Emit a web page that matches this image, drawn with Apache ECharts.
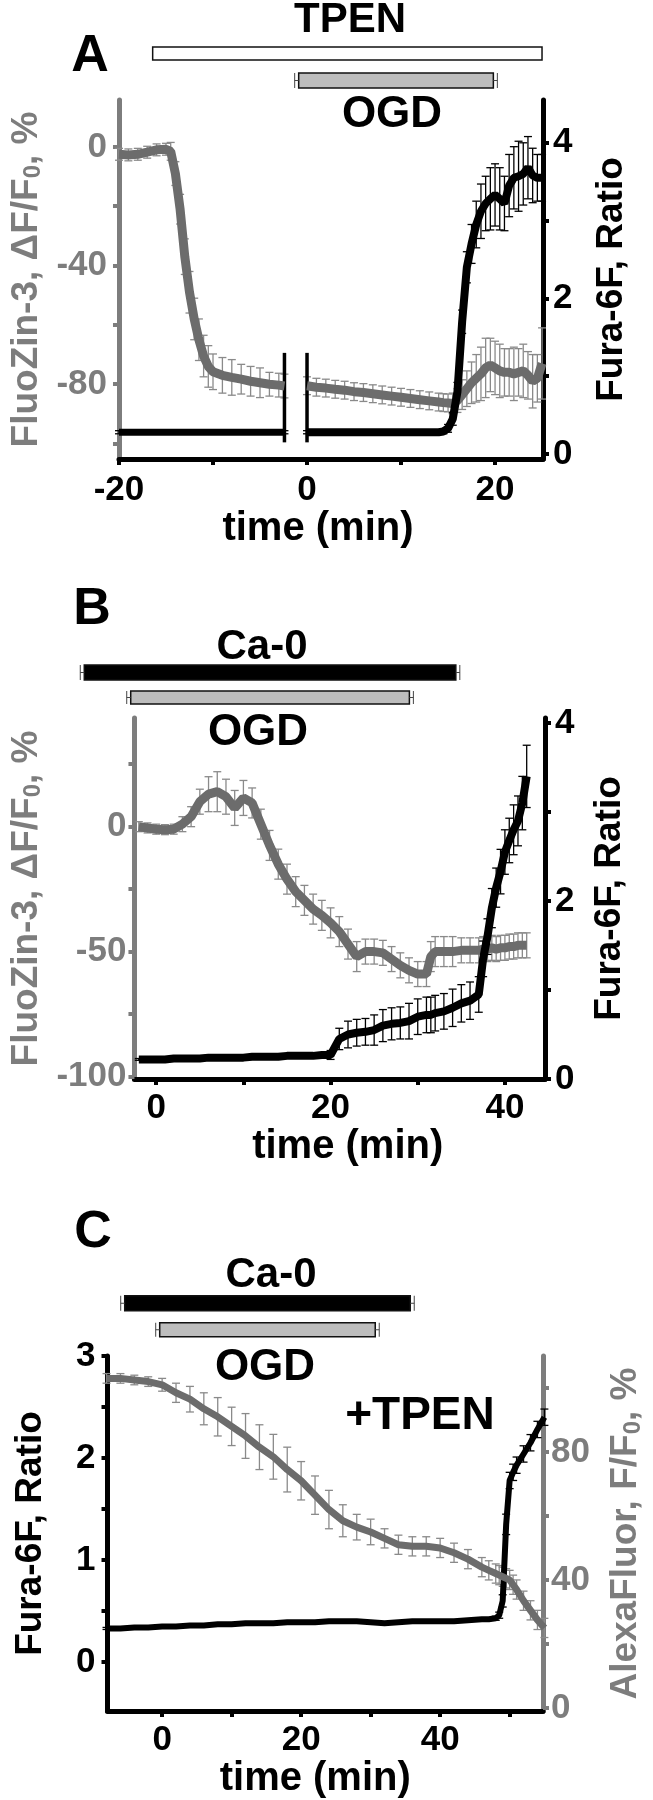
<!DOCTYPE html>
<html><head><meta charset="utf-8">
<script src="https://cdn.jsdelivr.net/npm/echarts/dist/echarts.min.js"></script>
<style>html,body{margin:0;padding:0;background:#fff}#c{width:653px;height:1800px}</style>
</head><body><div id="c"></div>
<script>
// ---------- Panel A ----------
const aTpen = [-15, 25];
const aOgd = [0, 20];
const aBreakTimes = [-2.4, 0];
const aBreakSpan = [0.15, 1.3];
const aTime1 = [-20,-19,-18,-17,-16,-15,-14.5,-14,-13.5,-13,-12.5,-12,-11.5,-11,-10.5,-10,-9,-8,-7,-6,-5,-4,-3,-2.4];
const aZn1 = [-2.5,-2.7,-2.5,-1.8,-1,-0.8,-1.5,-9,-21,-37,-49,-58,-65,-70.5,-74,-75.8,-77,-77.7,-78.3,-79,-79.5,-80,-80.3,-80.6];
const aZnErr1 = [2,2,2,2,2,2,3,4,5,6,7,7,7,7,7,6,6,6,5,5,5,4,4,4];
const aCa1 = [0.28,0.28,0.28,0.28,0.28,0.28,0.28,0.28,0.28,0.28,0.28,0.28,0.28,0.28,0.28,0.28,0.28,0.28,0.28,0.28,0.28,0.28,0.28,0.28];
const aCaErr1 = [0.02,0.02,0.02,0.02,0.02,0.02,0.02,0.02,0.02,0.02,0.02,0.02,0.02,0.02,0.02,0.02,0.02,0.02,0.02,0.02,0.02,0.02,0.02,0.02];
const aTime2 = [0,1,2,3,4,5,6,7,8,9,10,11,12,13,14,14.5,15,15.5,16,16.5,17,17.5,18,18.5,19,19.5,20,20.5,21,21.5,22,22.5,23,23.5,24,24.5,25];
const aZn2 = [-80.5,-81,-81.3,-81.7,-82,-82.5,-82.8,-83.2,-83.6,-84,-84.4,-84.8,-85.2,-85.6,-86,-86.2,-86.3,-86.5,-85.5,-83.5,-81.5,-79.5,-78,-76.5,-74.5,-73.5,-74.5,-75.5,-76,-76,-76.5,-76,-75.5,-77,-79,-78,-73];
const aZnErr2 = [3,3,3,3,3,3,3,3,3,3,3,3,3,3,3,3,3,3.5,4,5,6,7,8,9,10,9,9,9,8,8,9,8,9,8,9,8,12];
const aCa2 = [0.28,0.28,0.28,0.28,0.28,0.28,0.28,0.28,0.28,0.28,0.28,0.28,0.28,0.28,0.28,0.29,0.33,0.45,0.8,1.7,2.4,2.7,2.95,3.12,3.22,3.28,3.33,3.28,3.22,3.45,3.55,3.57,3.6,3.68,3.58,3.55,3.55];
const aCaErr2 = [0.02,0.02,0.02,0.02,0.02,0.02,0.02,0.02,0.02,0.02,0.02,0.02,0.02,0.02,0.02,0.03,0.05,0.08,0.12,0.15,0.2,0.25,0.3,0.35,0.35,0.4,0.4,0.4,0.35,0.4,0.4,0.45,0.4,0.4,0.35,0.3,0.3];

// ---------- Panel B ----------
const bCa0 = [-5, 35];
const bOgd = [0, 30];
const bTime = [-2,-1,0,1,2,3,4,5,6,7,8,9,10,11,12,13,14,15,16,17,18,19,20,21,22,23,24,25,26,27,28,29,30,31,31.5,32,33,34,35,36,37,37.5,38,38.5,39,39.5,40,40.5,41,41.5,42,42.5];
const bZn = [0,-0.5,-1,-1.2,-1,1,4,10,13,14,12,7.5,11.5,9.5,1,-7.5,-15,-21,-26,-29.5,-33,-35.5,-38.5,-42,-47,-52,-50,-50,-50.5,-53,-55.5,-57.5,-59,-59,-52,-50,-50,-50,-49.5,-49.5,-49.5,-49,-49,-48.5,-49,-48.5,-48.5,-48,-48,-47.5,-47.5,-47.5];
const bZnErr = [2,2,2,2,2,3,4,5,7,8,7,7,7,6,6,6,6,6,6,6,6,6,6,6,6,6,5,5,5,5,5,5,5,5,6,6,6,6,5,5,5,5,5,5,5,5,5,5,5,5,5,5];
const bCa = [0.22,0.22,0.22,0.22,0.23,0.23,0.23,0.23,0.24,0.24,0.24,0.24,0.24,0.25,0.25,0.25,0.25,0.26,0.26,0.26,0.26,0.27,0.27,0.45,0.5,0.52,0.53,0.55,0.6,0.62,0.63,0.65,0.7,0.72,0.72,0.74,0.76,0.8,0.85,0.88,0.95,1.35,1.6,1.92,2.15,2.33,2.55,2.68,2.8,2.9,3.1,3.4];
const bCaErr = [0.01,0.01,0.01,0.01,0.01,0.01,0.01,0.01,0.01,0.01,0.01,0.01,0.01,0.01,0.01,0.01,0.01,0.01,0.01,0.01,0.01,0.02,0.05,0.12,0.15,0.15,0.15,0.17,0.18,0.18,0.18,0.2,0.2,0.2,0.2,0.2,0.2,0.21,0.21,0.21,0.2,0.2,0.2,0.22,0.22,0.25,0.25,0.25,0.28,0.28,0.3,0.35];

// ---------- Panel C ----------
const cCa0 = [-5.4, 35.4];
const cOgd = [-0.4, 30.4];
const cTime = [-8,-6,-4,-2,0,2,4,6,8,10,12,14,16,18,20,22,24,26,28,30,32,34,36,38,40,42,44,46,47,48,48.5,49,49.5,50,50.5,51,52,53,54,55];
const cFura = [0.33,0.33,0.34,0.34,0.35,0.35,0.36,0.36,0.37,0.37,0.38,0.38,0.38,0.39,0.39,0.39,0.4,0.4,0.4,0.39,0.38,0.39,0.4,0.4,0.4,0.4,0.41,0.42,0.42,0.43,0.46,0.6,1.35,1.78,1.86,1.93,2.04,2.15,2.28,2.4];
const cFuraErr = [0.01,0.01,0.01,0.01,0.01,0.01,0.01,0.01,0.01,0.01,0.01,0.01,0.01,0.01,0.01,0.01,0.01,0.01,0.01,0.01,0.01,0.01,0.01,0.01,0.01,0.01,0.01,0.01,0.01,0.02,0.03,0.06,0.1,0.08,0.08,0.08,0.08,0.08,0.08,0.08];
const cAlexa = [103,103,102.5,102,101,98.5,96.5,93.5,91,88,85,81.5,78.5,74.5,71,66.5,62,58.5,56.5,55,53,51,50.5,50.5,50,48.5,46.5,44,43,42,41.5,41,40.5,40,38.5,37,33.5,30.5,27.5,25];
const cAlexaErr = [1.5,1.5,1.5,1.5,2,3,4,5,6,6,7,7,7,7,6,6,6,5,4,4,3,3,3,3,3,3,3,3,3,3,3,3,3,3,3,3,3,3,3,3];

// ---------- styles ----------
const FONT = '"Liberation Sans", Arial, Helvetica, sans-serif';
const GRAY = '#7d7d7d', GRAY_LINE = '#6c6c6c', GRAY_ERR = '#8a8a8a', BLACK = '#000';

const zip = (t, v) => t.map((x, i) => [x, v[i]]);
const zip3 = (t, v, e) => t.map((x, i) => [x, v[i], e[i]]);

function errItem(color, lw, cap) {
  return function (params, api) {
    const x = api.value(0), m = api.value(1), e = api.value(2);
    const hi = api.coord([x, m + e]), lo = api.coord([x, m - e]);
    const st = { stroke: color, lineWidth: lw };
    return { type: 'group', children: [
      { type: 'line', shape: { x1: hi[0], y1: hi[1], x2: lo[0], y2: lo[1] }, style: st },
      { type: 'line', shape: { x1: hi[0] - cap, y1: hi[1], x2: hi[0] + cap, y2: hi[1] }, style: st },
      { type: 'line', shape: { x1: lo[0] - cap, y1: lo[1], x2: lo[0] + cap, y2: lo[1] }, style: st }
    ]};
  };
}
function barItem(fill, h, caps) {
  return function (params, api) {
    const s = api.coord([api.value(0), api.value(2)]);
    const e = api.coord([api.value(1), api.value(2)]);
    const y = s[1];
    const ch = [{ type: 'rect', shape: { x: s[0], y: y - h / 2, width: e[0] - s[0], height: h },
      style: { fill: fill, stroke: '#111', lineWidth: 1.5 } }];
    if (caps) {
      const cs = { stroke: '#444', lineWidth: 1 };
      ch.push({ type: 'line', shape: { x1: s[0] - 4, y1: y - h / 2, x2: s[0] - 4, y2: y + h / 2 }, style: cs });
      ch.push({ type: 'line', shape: { x1: s[0] - 4, y1: y, x2: s[0], y2: y }, style: cs });
      ch.push({ type: 'line', shape: { x1: e[0] + 4, y1: y - h / 2, x2: e[0] + 4, y2: y + h / 2 }, style: cs });
      ch.push({ type: 'line', shape: { x1: e[0], y1: y, x2: e[0] + 4, y2: y }, style: cs });
    }
    return { type: 'group', children: ch };
  };
}
function breakItem(params, api) {
  const a = api.coord([api.value(0), api.value(1)]);
  const b = api.coord([api.value(0), api.value(2)]);
  return { type: 'line', shape: { x1: a[0], y1: a[1], x2: b[0], y2: b[1] }, style: { stroke: BLACK, lineWidth: 3.5 } };
}

function valAxis(o) {
  const color = o.color;
  return {
    type: 'value', gridIndex: o.grid, position: o.position, min: o.min, max: o.max,
    name: o.name, nameLocation: 'middle', nameGap: o.nameGap, nameRotate: o.nameRotate,
    nameTextStyle: Object.assign({ color: color, fontFamily: FONT, fontWeight: 'bold', fontSize: o.nameSize || 37,
      rich: { s: { fontSize: 24, fontWeight: 'bold', color: color, fontFamily: FONT, verticalAlign: 'bottom', padding: [14, 0, 0, 0] } } }, o.nameStyle || {}),
    axisLine: { show: true, onZero: false, lineStyle: { color: color, width: 5 } },
    axisTick: { show: true, inside: false, length: 6, customValues: o.ticks, lineStyle: { color: color, width: 4 } },
    axisLabel: { show: true, customValues: o.labels, margin: o.margin || 12, color: color, fontFamily: FONT, fontWeight: 'bold', fontSize: 35 },
    splitLine: { show: false }
  };
}
function hiddenX(grid, min, max) {
  return { type: 'value', gridIndex: grid, min: min, max: max, show: false };
}
function hiddenY(grid) {
  return { type: 'category', gridIndex: grid, data: ['r0', 'r1'], inverse: true, show: false };
}
function txt(text, x, y, size, color) {
  return { type: 'text', x: x, y: y, style: { text: text, fill: color || BLACK, font: 'bold ' + size + 'px ' + FONT, align: 'center', verticalAlign: 'middle' } };
}

const aX = [-20, 25.1], bX = [-2.5, 44.6], cX = [-7.86, 54.8];

const option = {
  animation: false,
  backgroundColor: '#fff',
  grid: [
    { left: 104, width: 439, top: 40, height: 54 },
    { left: 104, width: 439, top: 100, height: 359 },
    { left: 107.5, width: 437.5, top: 660, height: 50 },
    { left: 107.5, width: 437.5, top: 718, height: 361 },
    { left: 107.5, width: 438.5, top: 1290, height: 53 },
    { left: 107.5, width: 438.5, top: 1356, height: 357 }
  ],
  xAxis: [
    hiddenX(0, aX[0], aX[1]),
    valAxis({ grid: 1, position: 'bottom', min: aX[0], max: aX[1], color: BLACK, ticks: [-20, -10, 0, 10, 20], labels: [-20, 0, 20],
      name: 'time (min)', nameGap: 44, nameSize: 40, margin: 14, nameStyle: { padding: [0, 26, 0, 0] } }),
    hiddenX(2, bX[0], bX[1]),
    valAxis({ grid: 3, position: 'bottom', min: bX[0], max: bX[1], color: BLACK, ticks: [0, 10, 20, 30, 40], labels: [0, 20, 40],
      name: 'time (min)', nameGap: 46, nameSize: 40, margin: 12, nameStyle: { padding: [0, 0, 0, 16] } }),
    hiddenX(4, cX[0], cX[1]),
    valAxis({ grid: 5, position: 'bottom', min: cX[0], max: cX[1], color: BLACK, ticks: [0, 10, 20, 30, 40, 50], labels: [0, 20, 40],
      name: 'time (min)', nameGap: 40, nameSize: 40, margin: 12, nameStyle: { padding: [0, 20, 0, 0] } })
  ],
  yAxis: [
    hiddenY(0),
    valAxis({ grid: 1, position: 'left', min: -105.2, max: 15.8, color: GRAY, ticks: [0, -20, -40, -60, -80, -100], labels: [0, -40, -80],
      name: 'FluoZin-3, ΔF/F{s|0}, %', nameGap: 64, nameRotate: 90 }),
    valAxis({ grid: 1, position: 'right', min: -0.064, max: 4.55, color: BLACK, ticks: [0, 1, 2, 3, 4], labels: [0, 2, 4],
      name: 'Fura-6F, Ratio', nameGap: 50, nameRotate: 90, margin: 10 }),
    hiddenY(2),
    valAxis({ grid: 3, position: 'left', min: -101, max: 43.5, color: GRAY, ticks: [25, 0, -25, -50, -75, -100], labels: [0, -50, -100],
      name: 'FluoZin-3, ΔF/F{s|0}, %', nameGap: 66, nameRotate: 90, margin: 8 }),
    valAxis({ grid: 3, position: 'right', min: 0, max: 4.056, color: BLACK, ticks: [0, 1, 2, 3, 4], labels: [0, 2, 4],
      name: 'Fura-6F, Ratio', nameGap: 46, nameRotate: 90, margin: 10 }),
    hiddenY(4),
    valAxis({ grid: 5, position: 'left', min: -0.48, max: 3, color: BLACK, ticks: [-0.5, 0, 0.5, 1, 1.5, 2, 2.5, 3], labels: [0, 1, 2, 3],
      name: 'Fura-6F, Ratio', nameGap: 58, nameRotate: 90 }),
    valAxis({ grid: 5, position: 'right', min: -1, max: 110, color: GRAY, ticks: [0, 20, 40, 60, 80, 100], labels: [0, 40, 80],
      name: 'AlexaFluor, F/F{s|0}, %', nameGap: 64, nameRotate: 90, margin: 8 })
  ],
  graphic: [
    txt('A', 90, 57, 52), txt('TPEN', 350, 20, 42), txt('OGD', 392, 115, 44),
    txt('B', 92, 610, 52), txt('Ca-0', 262, 647, 42), txt('OGD', 258, 733, 44),
    txt('C', 93, 1233, 52), txt('Ca-0', 271, 1275, 42), txt('OGD', 265, 1368, 44), txt('+TPEN', 420, 1416, 46)
  ],
  series: [
    // A bars
    { type: 'custom', xAxisIndex: 0, yAxisIndex: 0, data: [[aTpen[0], aTpen[1], 0]], renderItem: barItem('#fff', 13, false) },
    { type: 'custom', xAxisIndex: 0, yAxisIndex: 0, data: [[aOgd[0], aOgd[1], 1]], renderItem: barItem('#bdbdbd', 15, true) },
    // A traces
    { type: 'custom', xAxisIndex: 1, yAxisIndex: 1, data: zip3(aTime1, aZn1, aZnErr1), renderItem: errItem(GRAY_ERR, 1.3, 4) },
    { type: 'custom', xAxisIndex: 1, yAxisIndex: 1, data: zip3(aTime2, aZn2, aZnErr2), renderItem: errItem(GRAY_ERR, 1.3, 4) },
    { type: 'line', xAxisIndex: 1, yAxisIndex: 1, data: zip(aTime1, aZn1), symbol: 'none', lineStyle: { color: GRAY_LINE, width: 9 } },
    { type: 'line', xAxisIndex: 1, yAxisIndex: 1, data: zip(aTime2, aZn2), symbol: 'none', lineStyle: { color: GRAY_LINE, width: 9 } },
    { type: 'custom', xAxisIndex: 1, yAxisIndex: 2, data: zip3(aTime1, aCa1, aCaErr1), renderItem: errItem(BLACK, 1.3, 4) },
    { type: 'custom', xAxisIndex: 1, yAxisIndex: 2, data: zip3(aTime2, aCa2, aCaErr2), renderItem: errItem(BLACK, 1.3, 4) },
    { type: 'line', xAxisIndex: 1, yAxisIndex: 2, data: zip(aTime1, aCa1), symbol: 'none', lineStyle: { color: BLACK, width: 7 } },
    { type: 'line', xAxisIndex: 1, yAxisIndex: 2, data: zip(aTime2, aCa2), symbol: 'none', lineStyle: { color: BLACK, width: 8 } },
    { type: 'custom', xAxisIndex: 1, yAxisIndex: 2, data: aBreakTimes.map(t => [t, aBreakSpan[0], aBreakSpan[1]]), renderItem: breakItem },
    // B bars
    { type: 'custom', xAxisIndex: 2, yAxisIndex: 3, data: [[bCa0[0], bCa0[1], 0]], renderItem: barItem('#000', 15, true) },
    { type: 'custom', xAxisIndex: 2, yAxisIndex: 3, data: [[bOgd[0], bOgd[1], 1]], renderItem: barItem('#bdbdbd', 13, true) },
    // B traces
    { type: 'custom', xAxisIndex: 3, yAxisIndex: 4, data: zip3(bTime, bZn, bZnErr), renderItem: errItem(GRAY_ERR, 1.3, 4) },
    { type: 'line', xAxisIndex: 3, yAxisIndex: 4, data: zip(bTime, bZn), symbol: 'none', lineStyle: { color: GRAY_LINE, width: 9 } },
    { type: 'custom', xAxisIndex: 3, yAxisIndex: 5, data: zip3(bTime, bCa, bCaErr), renderItem: errItem(BLACK, 1.3, 4) },
    { type: 'line', xAxisIndex: 3, yAxisIndex: 5, data: zip(bTime, bCa), symbol: 'none', lineStyle: { color: BLACK, width: 8 } },
    // C bars
    { type: 'custom', xAxisIndex: 4, yAxisIndex: 6, data: [[cCa0[0], cCa0[1], 0]], renderItem: barItem('#000', 15, true) },
    { type: 'custom', xAxisIndex: 4, yAxisIndex: 6, data: [[cOgd[0], cOgd[1], 1]], renderItem: barItem('#bdbdbd', 14, true) },
    // C traces
    { type: 'custom', xAxisIndex: 5, yAxisIndex: 7, data: zip3(cTime, cFura, cFuraErr), renderItem: errItem(BLACK, 1.3, 4) },
    { type: 'line', xAxisIndex: 5, yAxisIndex: 7, data: zip(cTime, cFura), symbol: 'none', lineStyle: { color: BLACK, width: 6 } },
    { type: 'custom', xAxisIndex: 5, yAxisIndex: 8, data: zip3(cTime, cAlexa, cAlexaErr), renderItem: errItem(GRAY_ERR, 1.3, 4) },
    { type: 'line', xAxisIndex: 5, yAxisIndex: 8, data: zip(cTime, cAlexa), symbol: 'none', lineStyle: { color: GRAY_LINE, width: 7 } }
  ]
};
const chart = echarts.init(document.getElementById('c'), null, { renderer: 'canvas' });
chart.setOption(option);
</script></body></html>
